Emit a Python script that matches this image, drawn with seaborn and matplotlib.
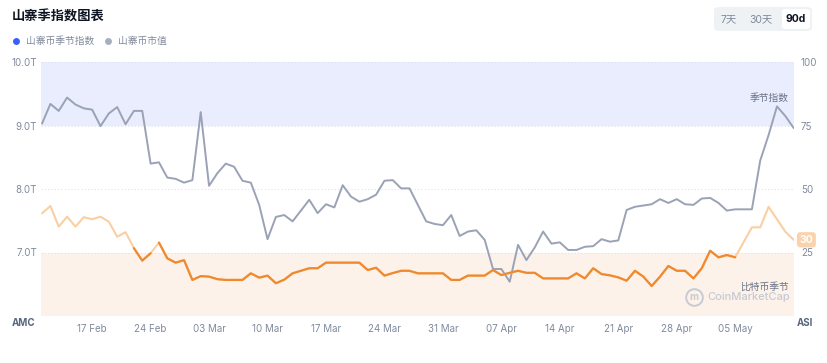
import numpy as np
import pandas as pd
import matplotlib
matplotlib.use("Agg")
import matplotlib.pyplot as plt
import matplotlib.dates as mdates
from matplotlib.patches import FancyBboxPatch
from matplotlib.lines import Line2D
import seaborn as sns

# ---------------- data ----------------
dates = pd.date_range("2025-02-11", "2025-05-12", freq="D")

market_cap_t = [
    9.03, 9.34, 9.23, 9.44, 9.33, 9.27, 9.25, 8.99, 9.19, 9.29,
    9.02, 9.23, 9.23, 8.40, 8.42, 8.18, 8.16, 8.10, 8.14, 9.21,
    8.05, 8.25, 8.40, 8.35, 8.13, 8.10, 7.75, 7.21, 7.56, 7.59,
    7.49, 7.66, 7.83, 7.62, 7.76, 7.71, 8.06, 7.88, 7.80, 7.84,
    7.91, 8.13, 8.14, 8.01, 8.01, 7.75, 7.49, 7.45, 7.43, 7.59,
    7.26, 7.33, 7.35, 7.20, 6.74, 6.74, 6.54, 7.12, 6.88, 7.08,
    7.33, 7.14, 7.16, 7.04, 7.04, 7.09, 7.10, 7.21, 7.17, 7.19,
    7.67, 7.72, 7.74, 7.76, 7.84, 7.78, 7.84, 7.76, 7.75, 7.85,
    7.86, 7.78, 7.66, 7.68, 7.68, 7.68, 8.45, 8.85, 9.30, 9.15,
    8.96,
]

season_index = [
    40.4, 43.3, 35.2, 39.1, 35.2, 38.9, 38.1, 39.1, 37.1, 31.2,
    33.0, 26.7, 21.8, 24.7, 28.9, 22.7, 21.0, 22.0, 14.2, 15.7,
    15.5, 14.5, 14.2, 14.2, 14.2, 16.8, 15.1, 15.9, 12.9, 14.3,
    16.8, 17.8, 18.8, 18.8, 21.0, 21.0, 21.0, 21.0, 21.0, 18.1,
    19.0, 15.9, 16.9, 17.8, 17.8, 16.8, 16.8, 16.8, 16.8, 14.2,
    14.2, 15.9, 15.9, 15.9, 18.1, 16.1, 17.0, 17.8, 17.0, 17.0,
    14.8, 14.8, 14.8, 14.8, 16.8, 14.8, 18.8, 16.5, 16.0, 15.2,
    13.9, 17.8, 15.5, 11.8, 15.5, 19.7, 17.8, 17.8, 14.8, 18.8,
    25.7, 23.1, 24.0, 23.1, 29.0, 34.9, 34.9, 43.0, 38.1, 33.2,
    30.0,
]

left_ticks = [7.0, 8.0, 9.0, 10.0]
left_labels = ["7.0T", "8.0T", "9.0T", "10.0T"]
right_ticks = [25, 50, 75, 100]
right_labels = ["25", "50", "75", "100"]
xtick_dates = pd.date_range("2025-02-17", "2025-05-05", freq="7D")

df = pd.DataFrame({"date": dates, "mcap": market_cap_t, "asi": season_index})

# ---------------- style ----------------
sns.set_theme(style="white")
plt.rcParams["font.family"] = ["Inter", "Noto Sans CJK SC", "DejaVu Sans"]

GRAY_LINE = "#9aa2b6"
DARK_OR = "#f0892e"
LIGHT_OR = "#f9cfa3"
TICK_C = "#808a9d"
BLUE_BAND = "#e9edfd"
ORANGE_BAND = "#fdf2e9"

fig = plt.figure(figsize=(8.28, 3.63), dpi=100)
W, H = 828, 363
ax = fig.add_axes([41 / W, (H - 316) / H, 753 / W, 254 / H])
ax2 = ax.twinx()

ax.set_ylim(6.0, 10.0)
ax2.set_ylim(0, 100)
ax.set_xlim(dates[0] - pd.Timedelta(hours=3), dates[-1] + pd.Timedelta(hours=1))

# bands (on the left axis, beneath lines)
ax.axhspan(9.0, 10.0, color=BLUE_BAND, zorder=0, lw=0)
ax.axhspan(6.0, 7.0, color=ORANGE_BAND, zorder=0, lw=0)
for t in left_ticks:
    ax.axhline(t, color="#dfe3ea", lw=0.8, ls=(0, (1, 2)), zorder=0.5)

# market cap line
sns.lineplot(data=df, x="date", y="mcap", ax=ax, color=GRAY_LINE, lw=1.4, legend=False)

# season index line: light everywhere, dark in low segments
sns.lineplot(data=df, x="date", y="asi", ax=ax2, color=LIGHT_OR, lw=1.5, legend=False)
vals = np.array(season_index)
dark_seg = (vals[:-1] + vals[1:]) / 2 <= 26
i = 0
n = len(dark_seg)
while i < n:
    if dark_seg[i]:
        j = i
        while j + 1 < n and dark_seg[j + 1]:
            j += 1
        sub = df.iloc[i:j + 2]
        sns.lineplot(data=sub, x="date", y="asi", ax=ax2, color=DARK_OR, lw=1.6, legend=False)
        i = j + 1
    else:
        i += 1

# axes cosmetics
for a in (ax, ax2):
    for s in a.spines.values():
        s.set_visible(False)
    a.set_xlabel("")
    a.set_ylabel("")
    a.grid(False)

ax.set_yticks(left_ticks)
ax.set_yticklabels(left_labels)
ax.tick_params(axis="y", length=0, pad=3, labelsize=7, labelcolor=TICK_C)
ax2.set_yticks(right_ticks)
ax2.set_yticklabels(right_labels)
ax2.tick_params(axis="y", length=0, pad=5, labelsize=7, labelcolor=TICK_C)

ax.set_xticks(xtick_dates)
ax.xaxis.set_major_formatter(mdates.DateFormatter("%d %b"))
ax.tick_params(axis="x", length=0, pad=6, labelsize=7, labelcolor=TICK_C)

# axis name labels
ax.annotate("AMC", xy=(0, 0), xycoords="axes fraction", xytext=(-4, -5),
            textcoords="offset points", ha="right", va="center",
            fontsize=7, fontweight="bold", color="#58667e")
ax2.annotate("ASI", xy=(1, 0), xycoords="axes fraction", xytext=(2, -5),
             textcoords="offset points", ha="left", va="center",
             fontsize=7, fontweight="bold", color="#58667e")

# band captions
ax2.text(0.993, 0.86, "季节指数", transform=ax2.transAxes, ha="right", va="center",
         fontsize=7, color="#6b7489")
ax2.text(0.993, 0.115, "比特币季节", transform=ax2.transAxes, ha="right", va="center",
         fontsize=7, color="#6b7489")

# watermark
fig.text(707 / W, 1 - 297 / H, "CoinMarketCap", ha="left", va="center",
         fontsize=8, color="#c5cad3", fontweight="medium")
fig.add_artist(Line2D([694 / W], [1 - 297 / H], transform=fig.transFigure,
                      marker="o", ms=12, mfc="none", mec="#c5cad3", mew=1.4, ls="none"))
fig.text(694 / W, 1 - 297.5 / H, "m", ha="center", va="center",
         fontsize=7, color="#c5cad3", fontweight="bold")

# last-value badge
last = season_index[-1]
ax2.annotate(f"{last:.0f}", xy=(1, last), xycoords=("axes fraction", "data"),
             xytext=(4, 0), textcoords="offset points", ha="left", va="center",
             fontsize=7.5, fontweight="bold", color="white",
             bbox=dict(boxstyle="round,pad=0.25,rounding_size=0.3", fc="#fad2ac", ec="none"))

# title and legend
fig.text(12 / W, 1 - 17 / H, "山寨季指数图表", ha="left", va="center",
         fontsize=9.5, fontweight="bold", color="#0d1421")
fig.add_artist(Line2D([16 / W], [1 - 41 / H], transform=fig.transFigure,
                      marker="o", ms=5, mfc="#3861fb", mec="none", ls="none"))
fig.text(26 / W, 1 - 41 / H, "山寨币季节指数", ha="left", va="center",
         fontsize=7, color="#808a9d")
fig.add_artist(Line2D([108 / W], [1 - 41 / H], transform=fig.transFigure,
                      marker="o", ms=5, mfc="#a6b0c3", mec="none", ls="none"))
fig.text(118 / W, 1 - 41 / H, "山寨币市值", ha="left", va="center",
         fontsize=7, color="#808a9d")

# range buttons
bg = FancyBboxPatch((714 / W, 1 - 31 / H), 98 / W, 24 / H,
                    boxstyle="round,pad=0,rounding_size=0.008",
                    transform=fig.transFigure, fc="#eff2f5", ec="none")
fig.add_artist(bg)
sel = FancyBboxPatch((782 / W, 1 - 29 / H), 28 / W, 20 / H,
                     boxstyle="round,pad=0,rounding_size=0.006",
                     transform=fig.transFigure, fc="white", ec="none")
fig.add_artist(sel)
fig.text(729 / W, 1 - 19 / H, "7天", ha="center", va="center", fontsize=7.5, color="#808a9d")
fig.text(761 / W, 1 - 19 / H, "30天", ha="center", va="center", fontsize=7.5, color="#808a9d")
fig.text(796 / W, 1 - 19 / H, "90d", ha="center", va="center", fontsize=7.5,
         fontweight="bold", color="#0d1421")

fig.savefig("out.png", dpi=100, facecolor="white")
